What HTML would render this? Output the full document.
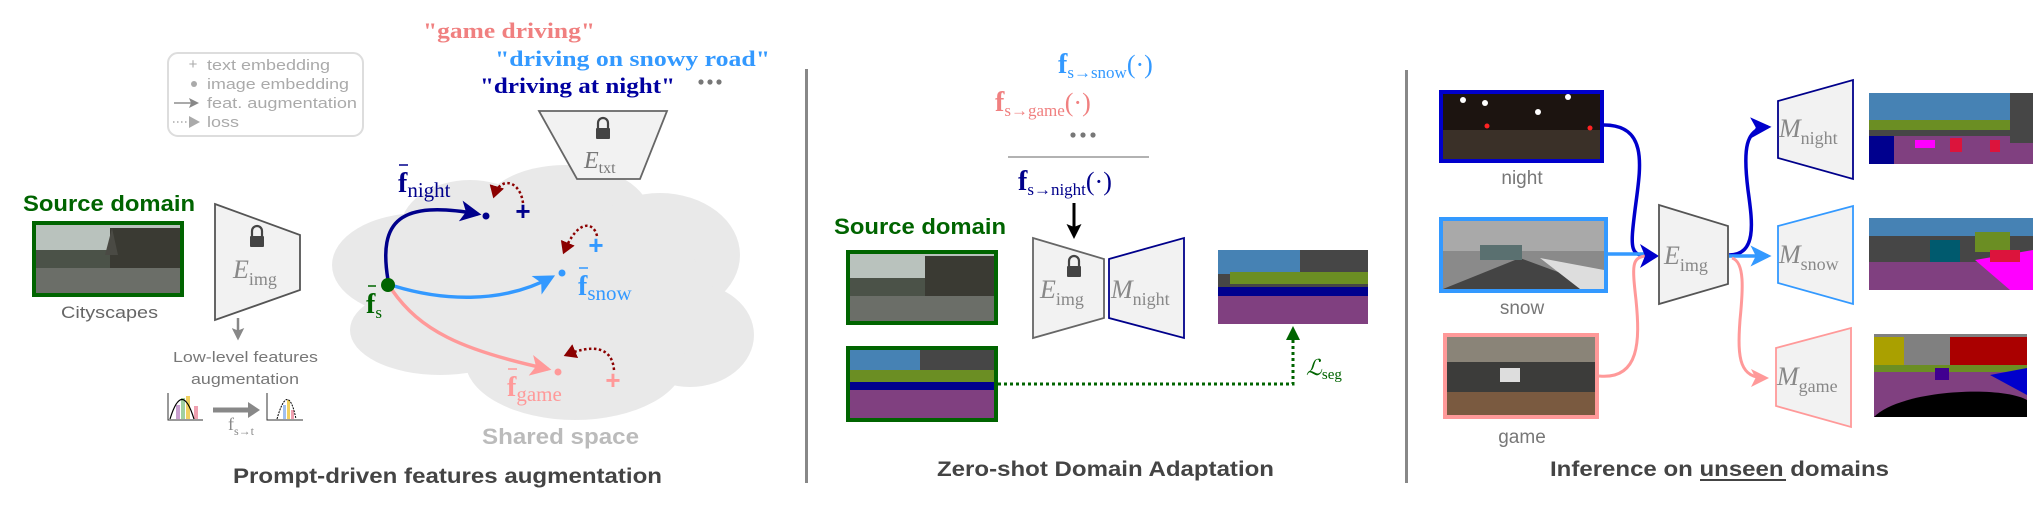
<!DOCTYPE html>
<html><head><meta charset="utf-8"><style>
html,body{margin:0;padding:0;background:#fff;}
svg{display:block;}
.s{font-family:"Liberation Sans",sans-serif;}
.m{font-family:"Liberation Serif",serif;}
</style></head><body>
<svg width="2034" height="514" viewBox="0 0 2034 514" xmlns="http://www.w3.org/2000/svg">
<defs>
<marker id="aB" markerWidth="6" markerHeight="6" refX="5" refY="3" orient="auto" markerUnits="strokeWidth"><path d="M0,0 L6,3 L0,6 L1.5,3z" fill="#00008b"/></marker>
<marker id="aL" markerWidth="6" markerHeight="6" refX="5" refY="3" orient="auto" markerUnits="strokeWidth"><path d="M0,0 L6,3 L0,6 L1.5,3z" fill="#3399ff"/></marker>
<marker id="aP" markerWidth="6" markerHeight="6" refX="5" refY="3" orient="auto" markerUnits="strokeWidth"><path d="M0,0 L6,3 L0,6 L1.5,3z" fill="#ff9999"/></marker>
<marker id="aR" markerWidth="5" markerHeight="6" refX="4" refY="3" orient="auto" markerUnits="strokeWidth"><path d="M0,0 L5,3 L0,6z" fill="#8b0000"/></marker>
<marker id="aK" markerWidth="5" markerHeight="5" refX="4" refY="2.5" orient="auto" markerUnits="strokeWidth"><path d="M0,0 L5,2.5 L0,5 L1,2.5z" fill="#000"/></marker>
<marker id="aN" markerWidth="6" markerHeight="6" refX="5" refY="3" orient="auto" markerUnits="strokeWidth"><path d="M0,0 L6,3 L0,6 L1.5,3z" fill="#0000cc"/></marker>
<marker id="aY" markerWidth="5" markerHeight="5" refX="4" refY="2.5" orient="auto" markerUnits="strokeWidth"><path d="M0,0 L5,2.5 L0,5 L1,2.5z" fill="#888"/></marker>
<g id="lock"><path d="M-5,0 v-5 a5,5 0 0 1 10,0 v5" fill="none" stroke="#444" stroke-width="2.2"/><rect x="-7" y="0" width="14" height="11" fill="#444" rx="1"/></g>
</defs>

<!-- ===== Panel 1 ===== -->
<text x="423" y="38" class="m" font-size="22" font-weight="bold" fill="#f08080" textLength="172" lengthAdjust="spacingAndGlyphs">"game driving"</text>
<text x="495" y="66" class="m" font-size="22" font-weight="bold" fill="#3399ff" textLength="275" lengthAdjust="spacingAndGlyphs">"driving on snowy road"</text>
<text x="480" y="93" class="m" font-size="22" font-weight="bold" fill="#0000a0" textLength="195" lengthAdjust="spacingAndGlyphs">"driving at night"</text>
<circle cx="701" cy="82" r="2.6" fill="#777"/><circle cx="710" cy="82" r="2.6" fill="#777"/><circle cx="719" cy="82" r="2.6" fill="#777"/>

<rect x="168" y="53" width="195" height="83" rx="10" fill="#fff" stroke="#ddd" stroke-width="2"/>
<g class="s" font-size="15" fill="#aaa">
<text x="193" y="69" font-size="15" fill="#aaa" text-anchor="middle">+</text>
<text x="207" y="70" textLength="123" lengthAdjust="spacingAndGlyphs">text embedding</text>
<circle cx="194" cy="84" r="3" fill="#aaa"/>
<text x="207" y="89" textLength="142" lengthAdjust="spacingAndGlyphs">image embedding</text>
<text x="207" y="108" textLength="150" lengthAdjust="spacingAndGlyphs">feat. augmentation</text>
<text x="207" y="127" textLength="32" lengthAdjust="spacingAndGlyphs">loss</text>
</g>
<line x1="174" y1="103" x2="197" y2="103" stroke="#aaa" stroke-width="2" marker-end="url(#aY)"/>
<line x1="173" y1="122" x2="189" y2="122" stroke="#aaa" stroke-width="1.5" stroke-dasharray="1.5,2.5"/>
<path d="M189,116 L200,122 L189,128z" fill="#aaa"/>

<!-- cloud -->
<g fill="#e9e9e9">
<ellipse cx="420" cy="265" rx="88" ry="52"/>
<ellipse cx="470" cy="230" rx="70" ry="50"/>
<ellipse cx="565" cy="215" rx="85" ry="50"/>
<ellipse cx="660" cy="255" rx="80" ry="62"/>
<ellipse cx="690" cy="335" rx="64" ry="52"/>
<ellipse cx="575" cy="360" rx="110" ry="60"/>
<ellipse cx="440" cy="330" rx="90" ry="45"/>
<ellipse cx="545" cy="290" rx="160" ry="85"/>
</g>

<!-- E_txt -->
<polygon points="539,111 667,111 640,179 577,179" fill="#f2f2f2" stroke="#666" stroke-width="1.8"/>
<use href="#lock" x="603" y="128"/>
<text x="584" y="168" class="m" font-size="24" font-style="italic" fill="#777">E<tspan dy="5" font-size="16" font-style="normal">txt</tspan></text>

<!-- Source domain -->
<text x="23" y="211" class="s" font-size="22" font-weight="bold" fill="#006400" textLength="172" lengthAdjust="spacingAndGlyphs">Source domain</text>
<g>
<rect x="32" y="221" width="152" height="76" fill="#006400"/>
<rect x="36" y="225" width="144" height="68" fill="#b9c2bd"/>
<rect x="36" y="250" width="144" height="20" fill="#4b5248"/>
<rect x="36" y="268" width="144" height="25" fill="#6b6e68"/>
<rect x="110" y="228" width="70" height="40" fill="#3a3a33"/>
<polygon points="105,255 112,228 118,255" fill="#4a4a44"/>
</g>
<text x="61" y="318" class="s" font-size="17" fill="#666" textLength="97" lengthAdjust="spacingAndGlyphs">Cityscapes</text>

<polygon points="215,204 300,235 300,290 215,320" fill="#f2f2f2" stroke="#555" stroke-width="1.8"/>
<use href="#lock" x="257" y="236"/>
<text x="233" y="278" class="m" font-size="26" font-style="italic" fill="#888">E<tspan dy="7" font-size="18" font-style="normal">img</tspan></text>
<line x1="238" y1="318" x2="238" y2="338" stroke="#888" stroke-width="2.5" marker-end="url(#aY)"/>
<text x="173" y="362" class="s" font-size="15" fill="#777" textLength="145" lengthAdjust="spacingAndGlyphs">Low-level features</text>
<text x="191" y="384" class="s" font-size="15" fill="#777" textLength="108" lengthAdjust="spacingAndGlyphs">augmentation</text>
<g>
<path d="M168,393 V420 H203" fill="none" stroke="#333" stroke-width="1"/>
<rect x="176" y="405" width="4" height="14" fill="#c9a0d0"/><rect x="181" y="398" width="4" height="21" fill="#a0d0a0"/><rect x="186" y="396" width="4" height="23" fill="#f0d060"/><rect x="194" y="406" width="4" height="13" fill="#f0a0b0"/>
<path d="M170,419 Q182,380 194,419" fill="none" stroke="#000" stroke-width="1.2"/>
<path d="M213,410 H250" stroke="#888" stroke-width="5"/><path d="M248,402 L260,410 L248,418z" fill="#888"/>
<path d="M267,393 V420 H303" fill="none" stroke="#333" stroke-width="1"/>
<rect x="283" y="405" width="3" height="14" fill="#a0c0f0"/><rect x="287" y="400" width="3" height="19" fill="#f0d060"/><rect x="291" y="410" width="3" height="9" fill="#f0a0b0"/>
<path d="M277,419 Q288,380 296,419" fill="none" stroke="#000" stroke-width="1" stroke-dasharray="2,1"/>
</g>
<text x="228" y="430" class="m" font-size="18" fill="#888">f<tspan dy="5" font-size="12">s→t</tspan></text>

<!-- arrows in cloud -->
<path d="M388,280 C378,220 400,200 478,214" fill="none" stroke="#00008b" stroke-width="3.5" marker-end="url(#aB)"/>
<path d="M394,286 C440,300 500,305 552,277" fill="none" stroke="#3399ff" stroke-width="3.5" marker-end="url(#aL)"/>
<path d="M392,290 C420,330 460,350 548,369" fill="none" stroke="#ff9999" stroke-width="3.5" marker-end="url(#aP)"/>
<circle cx="388" cy="285" r="7" fill="#006400"/>
<circle cx="486" cy="216" r="3.5" fill="#00008b"/>
<circle cx="562" cy="273" r="3.5" fill="#3399ff"/>
<circle cx="558" cy="372" r="3.5" fill="#ff9999"/>
<path d="M523,203 C520,180 500,176 494,196" fill="none" stroke="#8b0000" stroke-width="2.5" stroke-dasharray="2.5,2.5" marker-end="url(#aR)"/>
<path d="M597,236 C594,222 578,218 564,252" fill="none" stroke="#8b0000" stroke-width="2.5" stroke-dasharray="2.5,2.5" marker-end="url(#aR)"/>
<path d="M614,370 C612,345 590,345 566,355" fill="none" stroke="#8b0000" stroke-width="2.5" stroke-dasharray="2.5,2.5" marker-end="url(#aR)"/>
<text x="523" y="220" class="s" font-size="26" font-weight="bold" fill="#00008b" text-anchor="middle">+</text>
<text x="596" y="254" class="s" font-size="26" font-weight="bold" fill="#3399ff" text-anchor="middle">+</text>
<text x="613" y="389" class="s" font-size="26" font-weight="bold" fill="#ff9999" text-anchor="middle">+</text>
<g class="m" font-weight="bold">
<text x="398" y="192" font-size="28" fill="#00008b">f<tspan dy="5" font-size="21" font-weight="normal">night</tspan></text><line x1="399" y1="165" x2="408" y2="165" stroke="#00008b" stroke-width="1.5"/>
<text x="366" y="313" font-size="28" fill="#006400">f<tspan dy="5" font-size="17" font-weight="normal">s</tspan></text><line x1="368" y1="286" x2="376" y2="286" stroke="#006400" stroke-width="1.5"/>
<text x="578" y="295" font-size="28" fill="#3399ff">f<tspan dy="5" font-size="21" font-weight="normal">snow</tspan></text><line x1="579" y1="268" x2="588" y2="268" stroke="#3399ff" stroke-width="1.5"/>
<text x="507" y="396" font-size="28" fill="#ff9999">f<tspan dy="5" font-size="21" font-weight="normal">game</tspan></text><line x1="508" y1="369" x2="517" y2="369" stroke="#ff9999" stroke-width="1.5"/>
</g>
<text x="482" y="444" class="s" font-size="22" font-weight="bold" fill="#bbb" textLength="157" lengthAdjust="spacingAndGlyphs">Shared space</text>
<text x="233" y="483" class="s" font-size="21" font-weight="bold" fill="#444" textLength="429" lengthAdjust="spacingAndGlyphs">Prompt-driven features augmentation</text>

<!-- separators -->
<rect x="805" y="69" width="3" height="414" fill="#888"/>
<rect x="1405" y="70" width="3" height="413" fill="#888"/>

<!-- ===== Panel 2 ===== -->
<g class="m">
<text x="1058" y="73" font-size="28" font-weight="bold" fill="#3399ff">f<tspan dy="5" font-size="17" font-weight="normal">s→snow</tspan><tspan dy="-5" font-size="26" font-weight="normal">(·)</tspan></text>
<text x="995" y="111" font-size="28" font-weight="bold" fill="#f08080">f<tspan dy="5" font-size="17" font-weight="normal">s→game</tspan><tspan dy="-5" font-size="26" font-weight="normal">(·)</tspan></text>
<text x="1018" y="190" font-size="28" font-weight="bold" fill="#00008b">f<tspan dy="5" font-size="17" font-weight="normal">s→night</tspan><tspan dy="-5" font-size="26" font-weight="normal">(·)</tspan></text>
</g>
<circle cx="1073" cy="135" r="2.6" fill="#777"/><circle cx="1083" cy="135" r="2.6" fill="#777"/><circle cx="1093" cy="135" r="2.6" fill="#777"/>
<line x1="1008" y1="157" x2="1149" y2="157" stroke="#999" stroke-width="1.5"/>
<line x1="1074" y1="203" x2="1074" y2="236" stroke="#000" stroke-width="3" marker-end="url(#aK)"/>
<text x="834" y="234" class="s" font-size="22" font-weight="bold" fill="#006400" textLength="172" lengthAdjust="spacingAndGlyphs">Source domain</text>
<g>
<rect x="846" y="250" width="152" height="75" fill="#006400"/>
<rect x="850" y="254" width="144" height="67" fill="#b9c2bd"/>
<rect x="850" y="278" width="144" height="20" fill="#4b5248"/>
<rect x="850" y="296" width="144" height="25" fill="#6b6e68"/>
<rect x="925" y="256" width="69" height="40" fill="#3a3a33"/>
</g>
<g>
<rect x="846" y="346" width="152" height="76" fill="#006400"/>
<rect x="850" y="350" width="144" height="68" fill="#4682b4"/>
<rect x="920" y="350" width="74" height="30" fill="#464646"/>
<rect x="850" y="370" width="144" height="15" fill="#6b8e23"/>
<rect x="850" y="382" width="144" height="10" fill="#00008e"/>
<rect x="850" y="390" width="144" height="28" fill="#804080"/>
</g>
<polygon points="1033,238 1104,259 1104,318 1033,338" fill="#f2f2f2" stroke="#666" stroke-width="1.8"/>
<use href="#lock" x="1074" y="266"/>
<text x="1040" y="298" class="m" font-size="26" font-style="italic" fill="#888">E<tspan dy="7" font-size="18" font-style="normal">img</tspan></text>
<polygon points="1109,259 1184,238 1184,338 1109,318" fill="#f2f2f2" stroke="#00008b" stroke-width="1.8"/>
<text x="1111" y="298" class="m" font-size="26" font-style="italic" fill="#888">M<tspan dy="7" font-size="18" font-style="normal">night</tspan></text>
<g>
<rect x="1218" y="250" width="150" height="74" fill="#4682b4"/>
<rect x="1300" y="250" width="68" height="30" fill="#464646"/>
<rect x="1218" y="274" width="150" height="16" fill="#464646"/>
<rect x="1230" y="272" width="138" height="12" fill="#6b8e23"/>
<rect x="1218" y="287" width="150" height="10" fill="#00008e"/>
<rect x="1218" y="296" width="150" height="28" fill="#804080"/>
</g>
<path d="M998,384 H1293 V333" fill="none" stroke="#006400" stroke-width="3" stroke-dasharray="3,3"/>
<path d="M1286,340 L1293,326 L1300,340z" fill="#006400"/>
<text x="1306" y="375" class="m" font-size="22" font-style="italic" fill="#006400">ℒ<tspan dy="4" font-size="15" font-style="normal">seg</tspan></text>
<text x="937" y="476" class="s" font-size="21" font-weight="bold" fill="#444" textLength="337" lengthAdjust="spacingAndGlyphs">Zero-shot Domain Adaptation</text>

<!-- ===== Panel 3 ===== -->
<g>
<rect x="1439" y="90" width="165" height="73" fill="#0000cc"/>
<rect x="1443" y="94" width="157" height="65" fill="#1c1410"/>
<rect x="1443" y="130" width="157" height="29" fill="#3a3028"/>
<circle cx="1463" cy="100" r="3" fill="#fff"/><circle cx="1485" cy="103" r="3" fill="#fff"/><circle cx="1568" cy="97" r="3" fill="#fff"/><circle cx="1538" cy="112" r="3" fill="#fff"/>
<circle cx="1487" cy="126" r="2.5" fill="#f22"/><circle cx="1590" cy="128" r="2.5" fill="#f22"/>
</g>
<text x="1522" y="184" class="s" font-size="19" fill="#777" text-anchor="middle">night</text>
<g>
<rect x="1439" y="217" width="169" height="76" fill="#3399ff"/>
<rect x="1443" y="221" width="161" height="68" fill="#8a8a8a"/>
<rect x="1443" y="221" width="161" height="30" fill="#a9a9a9"/>
<polygon points="1443,289 1520,258 1604,289" fill="#444"/>
<polygon points="1540,258 1604,270 1604,289 1580,289" fill="#ddd"/>
<rect x="1480" y="245" width="42" height="15" fill="#5a7070"/>
</g>
<text x="1522" y="314" class="s" font-size="19" fill="#777" text-anchor="middle">snow</text>
<g>
<rect x="1443" y="333" width="156" height="86" fill="#ff9999"/>
<rect x="1447" y="337" width="148" height="78" fill="#6a5e52"/>
<rect x="1447" y="337" width="148" height="25" fill="#8a8478"/>
<rect x="1447" y="362" width="148" height="30" fill="#3c3c3a"/>
<rect x="1447" y="392" width="148" height="23" fill="#7a5a40"/>
<rect x="1500" y="368" width="20" height="14" fill="#ddd"/>
</g>
<text x="1522" y="443" class="s" font-size="19" fill="#777" text-anchor="middle">game</text>

<path d="M1604,125 C1650,125 1640,170 1635,210 C1630,250 1630,256 1650,256" fill="none" stroke="#0000cc" stroke-width="3.5"/>
<path d="M1608,254 H1650" fill="none" stroke="#3399ff" stroke-width="3.5"/>
<path d="M1599,376 C1640,380 1640,340 1636,300 C1632,265 1632,258 1645,256" fill="none" stroke="#ff9999" stroke-width="3"/>
<path d="M1640,244 L1659,256 L1640,268 L1645,256z" fill="#0000cc"/>
<polygon points="1659,205 1728,226 1728,284 1659,304" fill="#f2f2f2" stroke="#555" stroke-width="1.8"/>
<text x="1664" y="264" class="m" font-size="26" font-style="italic" fill="#888">E<tspan dy="7" font-size="18" font-style="normal">img</tspan></text>
<path d="M1729,255 C1758,255 1752,220 1748,190 C1743,150 1745,128 1768,127" fill="none" stroke="#0000cc" stroke-width="3.5" marker-end="url(#aN)"/>
<path d="M1729,256 H1768" fill="none" stroke="#3399ff" stroke-width="3.5" marker-end="url(#aL)"/>
<path d="M1732,258 C1745,262 1743,290 1740,320 C1737,360 1740,378 1766,378" fill="none" stroke="#ff9999" stroke-width="3" marker-end="url(#aP)"/>
<polygon points="1778,101 1853,80 1853,179 1778,158" fill="#f2f2f2" stroke="#00008b" stroke-width="1.8"/>
<text x="1779" y="137" class="m" font-size="26" font-style="italic" fill="#888">M<tspan dy="7" font-size="18" font-style="normal">night</tspan></text>
<polygon points="1778,226 1853,206 1853,304 1778,283" fill="#f2f2f2" stroke="#3399ff" stroke-width="1.8"/>
<text x="1779" y="263" class="m" font-size="26" font-style="italic" fill="#888">M<tspan dy="7" font-size="18" font-style="normal">snow</tspan></text>
<polygon points="1776,348 1851,328 1851,427 1776,406" fill="#f2f2f2" stroke="#ff9999" stroke-width="1.8"/>
<text x="1777" y="385" class="m" font-size="26" font-style="italic" fill="#888">M<tspan dy="7" font-size="18" font-style="normal">game</tspan></text>
<g>
<rect x="1869" y="93" width="164" height="71" fill="#4682b4"/>
<rect x="1869" y="120" width="164" height="15" fill="#6b8e23"/>
<rect x="1869" y="130" width="164" height="10" fill="#464646"/>
<rect x="1869" y="136" width="164" height="28" fill="#804080"/>
<rect x="1869" y="136" width="25" height="28" fill="#00008e"/>
<rect x="2010" y="93" width="23" height="50" fill="#464646"/>
<rect x="1915" y="140" width="20" height="8" fill="#f0f"/>
<rect x="1950" y="138" width="12" height="14" fill="#dc143c"/><rect x="1990" y="140" width="10" height="12" fill="#dc143c"/>
</g>
<g>
<rect x="1869" y="218" width="164" height="72" fill="#464646"/>
<rect x="1869" y="218" width="164" height="18" fill="#4682b4"/>
<rect x="1930" y="240" width="30" height="25" fill="#005a6e"/>
<rect x="1975" y="232" width="35" height="20" fill="#6b8e23"/>
<rect x="1869" y="262" width="164" height="28" fill="#804080"/>
<polygon points="1975,260 2033,250 2033,290 2010,290" fill="#f0f"/>
<rect x="1990" y="250" width="30" height="12" fill="#dc143c"/>
</g>
<g>
<rect x="1874" y="334" width="153" height="83" fill="#808080"/>
<rect x="1874" y="337" width="30" height="30" fill="#aaa000"/>
<rect x="1950" y="337" width="77" height="30" fill="#aa0000"/>
<rect x="1874" y="365" width="153" height="12" fill="#6b8e23"/>
<rect x="1874" y="372" width="153" height="45" fill="#804080"/>
<polygon points="1990,375 2027,368 2027,395" fill="#0000cc"/>
<path d="M1874,417 C1900,390 2000,385 2027,400 V417z" fill="#000"/>
<rect x="1935" y="368" width="14" height="12" fill="#400090"/>
</g>
<text x="1550" y="476" class="s" font-size="21" font-weight="bold" fill="#444" textLength="339" lengthAdjust="spacingAndGlyphs">Inference on unseen domains</text>
<line x1="1700" y1="480" x2="1786" y2="480" stroke="#444" stroke-width="2"/>
</svg>
</body></html>
